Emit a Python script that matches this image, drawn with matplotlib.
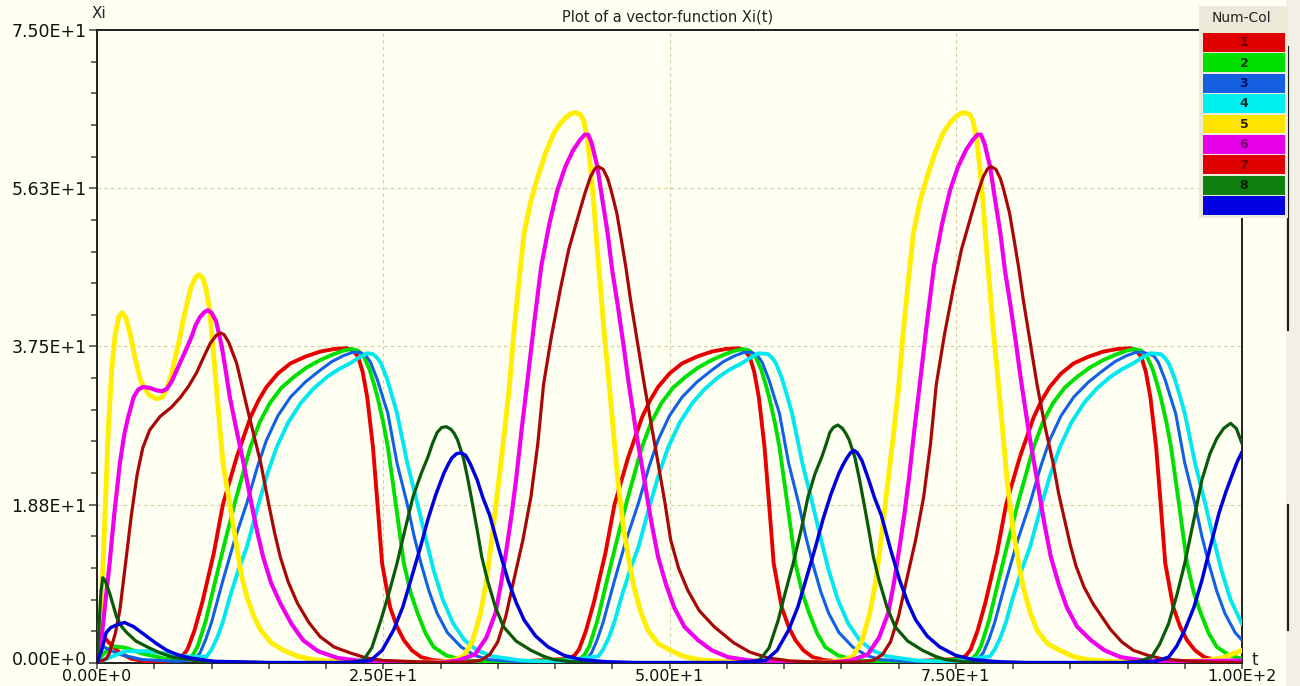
import matplotlib
matplotlib.use("Agg")
import matplotlib.pyplot as plt
import matplotlib.ticker as mticker
import matplotlib.transforms as mtransforms
from matplotlib.patches import Rectangle
from matplotlib.lines import Line2D

# Values, as (t, Xi) points for every component
xi1 = [(0, 3.5), (0.5, 3.2), (1.2, 2.2), (2.0, 1.2), (3.0, 0.5), (4.5, 0.15), (6.0, 0.2),
       (7.0, 0.5), (7.5, 0.9), (7.9, 1.6), (8.5, 3.8), (9.2, 7.2), (10.2, 13.0), (11.0, 18.8), (12.2, 24.4),
       (13.4, 29.1), (14.1, 31.1), (14.8, 32.7), (15.8, 34.3), (16.9, 35.5), (18.2, 36.3), (19.5, 36.9),
       (20.7, 37.2), (21.8, 37.3), (22.3, 37.1), (22.8, 36.3), (23.2, 34.5), (23.6, 31.5), (24.1, 25.6),
       (24.5, 18.8), (24.9, 11.8), (25.3, 8.8), (25.6, 6.6), (26.2, 4.3), (26.8, 2.7), (27.5, 1.5),
       (28.3, 0.7), (29.3, 0.35), (30.5, 0.2), (35.0, 0.05),
       (41.2, 0.5), (41.7, 0.9), (42.1, 1.6), (42.7, 3.8), (43.4, 7.2), (44.4, 13.0), (45.2, 18.8), (46.4, 24.4),
       (47.6, 29.1), (48.3, 31.1), (49.0, 32.7), (50.0, 34.3), (51.1, 35.5), (52.4, 36.3), (53.7, 36.9),
       (54.9, 37.2), (56.0, 37.3), (56.5, 37.1), (57.0, 36.3), (57.4, 34.5), (57.8, 31.5), (58.3, 25.6),
       (58.7, 18.8), (59.1, 11.8), (59.5, 8.8), (59.8, 6.6), (60.4, 4.3), (61.0, 2.7), (61.7, 1.5),
       (62.5, 0.7), (63.5, 0.35), (64.7, 0.2), (69.2, 0.05),
       (75.4, 0.5), (75.9, 0.9), (76.3, 1.6), (76.9, 3.8), (77.6, 7.2), (78.6, 13.0), (79.4, 18.8), (80.6, 24.4),
       (81.8, 29.1), (82.5, 31.1), (83.2, 32.7), (84.2, 34.3), (85.3, 35.5), (86.6, 36.3), (87.9, 36.9),
       (89.1, 37.2), (90.2, 37.3), (90.7, 37.1), (91.2, 36.3), (91.6, 34.5), (92.0, 31.5), (92.5, 25.6),
       (92.9, 18.8), (93.3, 11.8), (93.7, 8.8), (94.0, 6.6), (94.6, 4.3), (95.2, 2.7), (95.9, 1.5),
       (96.7, 0.7), (97.7, 0.35), (98.9, 0.2), (100, 0.1)]

xi2 = [(0, 0), (0.5, 1.0), (1.3, 2.0), (2.5, 1.8), (4.0, 1.1), (6.0, 0.5), (7.2, 0.4),
       (8.0, 0.5), (8.4, 1.0), (8.8, 2.0), (9.5, 5.0), (10.2, 9.0), (11.2, 14.5), (12.1, 19.3), (13.4, 25.6),
       (14.2, 28.5), (15.1, 30.8), (16.1, 32.6), (17.2, 33.9), (18.3, 35.0), (19.5, 35.9), (20.5, 36.5),
       (21.5, 37.0), (22.2, 37.2), (22.8, 37.0), (23.3, 36.3), (23.8, 34.8), (24.2, 33.0), (24.5, 31.5),
       (25.0, 28.5), (25.4, 25.6), (26.1, 18.8), (26.8, 11.8), (27.4, 8.3), (28.0, 5.9), (28.7, 3.5),
       (29.4, 1.9), (30.5, 0.9), (31.8, 0.4), (33.5, 0.15), (36.0, 0.05),
       (42.2, 0.5), (42.6, 1.0), (43.0, 2.0), (43.7, 5.0), (44.4, 9.0), (45.4, 14.5), (46.3, 19.3), (47.6, 25.6),
       (48.4, 28.5), (49.3, 30.8), (50.3, 32.6), (51.4, 33.9), (52.5, 35.0), (53.7, 35.9), (54.7, 36.5),
       (55.7, 37.0), (56.4, 37.2), (57.0, 37.0), (57.5, 36.3), (58.0, 34.8), (58.4, 33.0), (58.7, 31.5),
       (59.2, 28.5), (59.6, 25.6), (60.3, 18.8), (61.0, 11.8), (61.6, 8.3), (62.2, 5.9), (62.9, 3.5),
       (63.6, 1.9), (64.7, 0.9), (66.0, 0.4), (67.7, 0.15), (70.2, 0.05),
       (76.4, 0.5), (76.8, 1.0), (77.2, 2.0), (77.9, 5.0), (78.6, 9.0), (79.6, 14.5), (80.5, 19.3), (81.8, 25.6),
       (82.6, 28.5), (83.5, 30.8), (84.5, 32.6), (85.6, 33.9), (86.7, 35.0), (87.9, 35.9), (88.9, 36.5),
       (89.9, 37.0), (90.6, 37.2), (91.2, 37.0), (91.7, 36.3), (92.2, 34.8), (92.6, 33.0), (92.9, 31.5),
       (93.4, 28.5), (93.8, 25.6), (94.5, 18.8), (95.2, 11.8), (95.8, 8.3), (96.4, 5.9), (97.1, 3.5),
       (97.8, 1.9), (98.9, 0.9), (100, 0.5)]

xi3 = [(0, 0), (0.5, 2.0), (1.0, 1.6), (2.0, 1.0), (4.0, 0.4), (7.0, 0.2),
       (8.5, 0.4), (9.0, 1.2), (9.5, 2.8), (10.0, 4.8), (11.0, 9.8), (12.0, 14.5), (13.1, 19.0), (14.0, 23.2),
       (14.8, 26.4), (15.8, 29.3), (16.9, 31.5), (18.2, 33.3), (19.5, 34.7), (20.5, 35.7), (21.5, 36.4),
       (22.3, 36.8), (23.0, 36.8), (23.5, 36.4), (23.9, 35.6), (24.5, 33.5), (25.0, 31.3), (25.4, 29.6),
       (26.2, 23.7), (27.1, 18.8), (27.7, 15.0), (28.3, 11.8), (29.0, 8.5), (29.7, 5.9), (30.6, 3.6),
       (31.8, 1.9), (33.0, 0.9), (34.2, 0.4), (38.0, 0.05),
       (42.7, 0.4), (43.2, 1.2), (43.7, 2.8), (44.2, 4.8), (45.2, 9.8), (46.2, 14.5), (47.3, 19.0), (48.2, 23.2),
       (49.0, 26.4), (50.0, 29.3), (51.1, 31.5), (52.4, 33.3), (53.7, 34.7), (54.7, 35.7), (55.7, 36.4),
       (56.5, 36.8), (57.2, 36.8), (57.7, 36.4), (58.1, 35.6), (58.7, 33.5), (59.2, 31.3), (59.6, 29.6),
       (60.4, 23.7), (61.3, 18.8), (61.9, 15.0), (62.5, 11.8), (63.2, 8.5), (63.9, 5.9), (64.8, 3.6),
       (66.0, 1.9), (67.2, 0.9), (68.4, 0.4), (72.2, 0.05),
       (76.9, 0.4), (77.4, 1.2), (77.9, 2.8), (78.4, 4.8), (79.4, 9.8), (80.4, 14.5), (81.5, 19.0), (82.4, 23.2),
       (83.2, 26.4), (84.2, 29.3), (85.3, 31.5), (86.6, 33.3), (87.9, 34.7), (88.9, 35.7), (89.9, 36.4),
       (90.7, 36.8), (91.4, 36.8), (92.3, 36.4), (92.7, 35.6), (93.3, 33.5), (93.8, 31.3), (94.2, 29.6),
       (95.0, 23.7), (95.9, 18.8), (96.5, 15.0), (97.1, 11.8), (97.8, 8.5), (98.5, 5.9), (99.4, 3.6),
       (100, 2.7)]

xi4 = [(0, 0), (1.0, 0.6), (2.5, 1.4), (4.5, 1.4), (6.5, 1.0), (8.5, 0.7),
       (9.6, 0.8), (10.0, 1.6), (10.5, 3.0), (11.0, 4.9), (11.6, 7.8), (12.3, 10.8), (13.1, 13.8), (14.1, 18.8),
       (14.9, 22.5), (15.7, 25.6), (16.7, 28.5), (17.8, 30.8), (18.9, 32.5), (20.1, 33.9), (21.1, 34.8),
       (22.1, 35.5), (22.9, 36.2), (23.6, 36.7), (24.1, 36.6), (24.5, 36.1), (24.8, 35.5), (25.3, 33.8),
       (25.7, 32.0), (26.2, 29.6), (27.1, 23.7), (28.0, 18.8), (28.7, 14.8), (29.4, 11.0), (30.2, 7.5),
       (31.1, 4.7), (32.1, 2.7), (33.2, 1.5), (34.5, 0.8), (37.0, 0.3), (40.0, 0.1),
       (43.8, 0.8), (44.2, 1.6), (44.7, 3.0), (45.2, 4.9), (45.8, 7.8), (46.5, 10.8), (47.3, 13.8), (48.3, 18.8),
       (49.1, 22.5), (49.9, 25.6), (50.9, 28.5), (52.0, 30.8), (53.1, 32.5), (54.3, 33.9), (55.3, 34.8),
       (56.3, 35.5), (57.1, 36.2), (57.8, 36.7), (58.6, 36.6), (59.0, 36.1), (59.3, 35.5), (59.8, 33.8),
       (60.2, 32.0), (60.7, 29.6), (61.6, 23.7), (62.5, 18.8), (63.2, 14.8), (63.9, 11.0), (64.7, 7.5),
       (65.6, 4.7), (66.6, 2.7), (67.7, 1.5), (69.0, 0.8), (71.5, 0.3), (74.5, 0.1),
       (78.0, 0.8), (78.4, 1.6), (78.9, 3.0), (79.4, 4.9), (80.0, 7.8), (80.7, 10.8), (81.5, 13.8), (82.5, 18.8),
       (83.3, 22.5), (84.1, 25.6), (85.1, 28.5), (86.2, 30.8), (87.3, 32.5), (88.5, 33.9), (89.5, 34.8),
       (90.5, 35.5), (91.3, 36.2), (92.0, 36.7), (92.9, 36.6), (93.3, 36.1), (93.6, 35.5), (94.1, 33.8),
       (94.5, 32.0), (95.0, 29.6), (95.9, 23.7), (96.8, 18.8), (97.5, 14.8), (98.2, 11.0), (99.0, 7.5),
       (100, 4.6)]

xi5 = [(0, 0), (0.3, 5), (0.6, 14), (1.0, 28), (1.3, 35), (1.6, 39), (1.9, 41), (2.2, 41.5), (2.5, 41),
       (2.9, 39), (3.3, 36.3), (3.8, 33.5), (4.5, 31.8), (5.2, 31.3), (5.7, 31.5), (6.1, 32.5), (6.5, 34.2),
       (6.8, 36), (7.2, 38.3), (7.5, 40.5), (7.9, 42.8), (8.2, 44.5), (8.6, 45.7), (8.9, 46), (9.2, 45.7),
       (9.5, 44.5), (9.8, 42.2), (10.0, 39.5), (10.5, 31.5), (11.0, 23.7), (11.6, 18.8), (12.2, 13.8),
       (12.6, 10.5), (13.1, 7.8), (13.7, 5.5), (14.3, 3.9), (15.2, 2.4), (16.3, 1.5), (17.5, 0.8),
       (18.9, 0.4), (21.0, 0.15), (24.0, 0.05), (30.0, 0.1),
       (31.2, 0.35), (32.0, 0.8), (32.8, 2.6), (33.5, 5.9), (34.0, 9.6), (34.4, 13.8), (35.1, 21.7),
       (35.6, 27.5), (36.0, 32.5), (36.4, 39), (36.8, 44.5), (37.3, 50.9), (37.9, 54.8), (38.5, 57.6),
       (39.2, 60.5), (39.9, 62.8), (40.5, 64.0), (41.0, 64.7), (41.4, 65.1), (41.8, 65.2), (42.2, 65.0),
       (42.5, 64.3), (42.8, 62.3), (43.1, 58.8), (43.4, 54.2), (43.7, 48.9), (44.0, 44.0), (44.3, 39.1),
       (44.7, 33.5), (45.1, 27.5), (45.5, 21.5), (46.0, 15.8), (46.5, 11.8), (46.9, 9.0), (47.5, 6.0),
       (48.1, 3.9), (49.0, 2.3), (50.1, 1.5), (51.2, 0.8), (52.5, 0.4), (55.0, 0.15), (58.0, 0.05), (64.0, 0.1),
       (65.2, 0.35), (66.0, 0.8), (66.8, 2.6), (67.5, 5.9), (68.0, 9.6), (68.4, 13.8), (69.1, 21.7),
       (69.6, 27.5), (70.0, 32.5), (70.4, 39), (70.8, 44.5), (71.3, 50.9), (71.9, 54.8), (72.5, 57.6),
       (73.2, 60.5), (73.9, 62.8), (74.5, 64.0), (75.0, 64.7), (75.4, 65.1), (75.8, 65.2), (76.2, 65.0),
       (76.5, 64.3), (76.8, 62.3), (77.1, 58.8), (77.4, 54.2), (77.7, 48.9), (78.0, 44.0), (78.3, 39.1),
       (78.7, 33.5), (79.1, 27.5), (79.5, 21.5), (80.0, 15.8), (80.5, 11.8), (80.9, 9.0), (81.5, 6.0),
       (82.1, 3.9), (83.0, 2.3), (84.1, 1.5), (85.2, 0.8), (86.5, 0.4), (89.0, 0.15), (92.0, 0.05),
       (97.0, 0.3), (98.5, 0.7), (100, 1.5)]

xi6 = [(0, 0), (0.4, 3), (0.7, 6.8), (1.1, 11.8), (1.5, 17.5), (2.0, 23.7), (2.4, 27.2), (2.7, 29),
       (3.2, 31.5), (3.6, 32.4), (4.0, 32.7), (4.6, 32.6), (5.2, 32.3), (5.7, 32.2), (6.1, 32.5), (6.5, 33.3),
       (6.8, 34.2), (7.5, 36.3), (7.9, 37.5), (8.3, 38.8), (8.6, 40), (9.0, 41.0), (9.4, 41.6), (9.7, 41.8),
       (10.0, 41.5), (10.4, 40.5), (10.9, 37.5), (11.2, 35), (11.6, 31.5), (12.2, 27.5), (12.8, 23.7),
       (13.5, 18.8), (14.0, 15.5), (14.5, 12.6), (15.2, 9.5), (16.0, 7.1), (17.0, 4.6), (18.0, 2.7),
       (19.3, 1.4), (21.0, 0.6), (23.0, 0.25), (25.0, 0.1), (30.0, 0.05),
       (31.5, 0.3), (33.0, 1.0), (34.0, 3.0), (34.8, 5.9), (35.3, 9.5), (35.8, 13.8), (36.2, 17.5), (36.6, 21.7),
       (37.1, 27.8), (37.6, 33.5), (38.2, 40.5), (38.8, 47), (39.5, 52.0), (40.2, 56), (40.9, 58.8),
       (41.6, 60.8), (42.2, 62.0), (42.6, 62.6), (42.9, 62.6), (43.2, 61.6), (43.7, 58.8), (44.1, 55.2),
       (44.6, 50.9), (45.0, 46.5), (45.5, 42.2), (46.0, 37.5), (46.4, 33.5), (47.1, 27.2), (47.8, 21.7),
       (48.4, 16.8), (49.0, 12.6), (49.7, 9.3), (50.4, 6.6), (51.3, 4.3), (52.5, 2.7), (53.7, 1.5),
       (55.1, 0.7), (57.0, 0.3), (59.0, 0.1), (64.0, 0.05),
       (65.8, 0.3), (67.3, 1.0), (68.3, 3.0), (69.1, 5.9), (69.6, 9.5), (70.1, 13.8), (70.5, 17.5), (70.9, 21.7),
       (71.4, 27.8), (71.9, 33.5), (72.5, 40.5), (73.1, 47), (73.8, 52.0), (74.5, 56), (75.2, 58.8),
       (75.9, 60.8), (76.5, 62.0), (76.9, 62.6), (77.2, 62.6), (77.5, 61.6), (78.0, 58.8), (78.4, 55.2),
       (78.9, 50.9), (79.3, 46.5), (79.8, 42.2), (80.3, 37.5), (80.7, 33.5), (81.4, 27.2), (82.1, 21.7),
       (82.7, 16.8), (83.3, 12.6), (84.0, 9.3), (84.7, 6.6), (85.6, 4.3), (86.8, 2.7), (88.0, 1.5),
       (89.4, 0.7), (91.3, 0.3), (93.3, 0.15), (100, 0.3)]

xi7 = [(0, 0), (0.8, 0.5), (1.1, 1.2), (1.6, 3.5), (2.0, 6.3), (2.6, 13), (3.0, 17.5), (3.5, 22.3),
       (4.0, 25.5), (4.6, 27.6), (5.5, 29.2), (6.5, 30.3), (7.3, 31.5), (8.0, 32.8), (8.7, 34.4), (9.3, 36.2),
       (9.9, 37.9), (10.4, 38.8), (10.8, 39.1), (11.1, 38.9), (11.5, 38.0), (12.2, 35.5), (12.6, 33.2),
       (13.1, 30.3), (13.7, 27.0), (14.3, 23.7), (15.0, 18.8), (15.5, 15.5), (16.0, 12.6), (16.7, 9.6),
       (17.5, 7.1), (18.5, 4.8), (19.5, 3.1), (20.7, 1.9), (22.1, 1.2), (23.5, 0.6), (25.0, 0.3), (30.0, 0.05),
       (32.0, 0.1), (33.5, 0.3), (34.3, 1.0), (35.0, 2.5), (35.7, 5.5), (36.4, 9.8), (37.2, 14.6), (37.9, 19.7),
       (38.5, 26), (39.0, 33), (39.7, 38.8), (40.5, 44.5), (41.2, 49), (42.0, 52.8), (42.6, 55.6), (43.1, 57.6),
       (43.5, 58.6), (43.8, 58.8), (44.2, 58.5), (44.6, 57.4), (44.9, 56), (45.4, 53.3), (45.8, 50.1),
       (46.2, 46.8), (46.6, 43), (47.2, 38.0), (47.8, 33), (48.4, 28.3), (49.0, 23.7), (49.6, 19.0),
       (50.1, 14.6), (50.8, 11.2), (51.6, 8.6), (52.6, 6.2), (53.9, 4.3), (55.6, 2.4), (57.0, 1.3),
       (58.6, 0.6), (60.5, 0.25), (63.0, 0.1),
       (66.3, 0.1), (67.8, 0.3), (68.6, 1.0), (69.3, 2.5), (70.0, 5.5), (70.7, 9.8), (71.5, 14.6), (72.2, 19.7),
       (72.8, 26), (73.3, 33), (74.0, 38.8), (74.8, 44.5), (75.5, 49), (76.3, 52.8), (76.9, 55.6), (77.4, 57.6),
       (77.8, 58.6), (78.1, 58.8), (78.5, 58.5), (78.9, 57.4), (79.2, 56), (79.7, 53.3), (80.1, 50.1),
       (80.5, 46.8), (80.9, 43), (81.5, 38.0), (82.1, 33), (82.8, 28.0), (83.5, 23.7), (84.0, 20.0),
       (84.5, 17.0), (85.0, 14.0), (85.5, 11.5), (86.2, 9.0), (87.0, 7.0), (88.5, 4.0), (89.5, 2.5),
       (90.5, 1.5), (91.8, 0.9), (93.0, 0.5), (95.0, 0.25), (97.3, 0.1), (100, 0.05)]

xi8 = [(0, 0), (0.2, 5), (0.35, 8.5), (0.5, 10.1), (0.7, 9.8), (1.1, 8.3), (1.7, 5.5), (2.1, 4.4),
       (2.6, 3.6), (3.4, 2.6), (4.4, 1.9), (5.5, 1.2), (6.6, 0.7), (9.0, 0.2), (15.0, 0.05), (21.0, 0.05),
       (22.5, 0.15), (23.3, 0.4), (24.0, 1.8), (24.8, 5.1), (25.5, 8.3), (26.2, 11.8), (26.9, 15.8),
       (27.6, 19.7), (28.3, 22.4), (28.9, 24.4), (29.3, 26.0), (29.7, 27.3), (30.1, 27.9), (30.5, 28.0),
       (30.9, 27.7), (31.2, 27.2), (31.5, 26.4), (32.0, 24.3), (32.4, 21.7), (32.8, 18.8), (33.2, 15.8),
       (33.6, 12.6), (34.1, 9.8), (34.8, 6.6), (35.5, 4.3), (36.6, 2.6), (37.9, 1.5), (39.0, 0.8),
       (39.9, 0.4), (41.5, 0.15), (44.0, 0.05),
       (55.5, 0.05), (56.9, 0.15), (57.9, 0.4), (58.7, 1.8), (59.5, 5.1), (60.1, 8.3), (60.8, 11.8),
       (61.5, 15.8), (62.1, 19.7), (62.7, 22.4), (63.3, 24.4), (63.7, 26.0), (64.0, 27.3), (64.3, 27.9),
       (64.7, 28.2), (65.1, 27.8), (65.4, 27.2), (65.7, 26.4), (66.2, 24.3), (66.6, 21.7), (67.0, 18.8),
       (67.4, 15.8), (67.8, 12.6), (68.3, 9.8), (69.0, 6.6), (69.7, 4.3), (70.8, 2.6), (72.1, 1.5),
       (73.2, 0.8), (74.1, 0.4), (75.7, 0.15), (78.0, 0.05),
       (89.5, 0.05), (91.0, 0.2), (92.1, 0.7), (92.8, 2.2), (93.6, 4.7), (94.3, 8.0), (95.0, 11.8),
       (95.8, 17.0), (96.5, 21.7), (97.2, 24.8), (97.8, 26.6), (98.4, 27.8), (99.0, 28.4), (99.5, 27.8),
       (100, 26.0)]

xi9 = [(0, 0), (0.2, 0.8), (0.4, 1.5), (0.8, 3.6), (1.2, 4.2), (1.7, 4.5), (2.4, 4.8), (3.2, 4.3),
       (3.8, 3.7), (4.4, 3.1), (5.2, 2.3), (6.1, 1.5), (7.0, 1.0), (8.1, 0.6), (10.2, 0.2), (15.0, 0.05),
       (22.0, 0.05), (23.9, 0.3), (24.9, 1.5), (25.9, 3.9), (26.7, 6.6), (27.4, 9.8), (28.2, 13.5),
       (28.9, 17.0), (29.6, 20.0), (30.3, 22.5), (30.7, 23.6), (31.0, 24.3), (31.4, 24.8), (31.8, 24.9),
       (32.2, 24.6), (32.6, 23.6), (33.2, 21.7), (33.7, 19.6), (34.3, 17.5), (35.1, 13.5), (35.9, 9.8),
       (36.6, 7.2), (37.3, 5.1), (38.3, 3.2), (39.4, 1.9), (40.8, 0.9), (42.3, 0.4), (44.5, 0.15), (47.0, 0.05),
       (56.0, 0.05), (58.4, 0.3), (59.4, 1.5), (60.4, 3.9), (61.2, 6.6), (61.9, 9.8), (62.7, 13.5),
       (63.4, 17.0), (64.1, 20.0), (64.8, 22.5), (65.2, 23.6), (65.5, 24.3), (65.8, 24.9), (66.1, 25.2),
       (66.4, 24.9), (66.8, 24.0), (67.4, 21.7), (67.9, 19.6), (68.5, 17.5), (69.3, 13.5), (70.1, 9.8),
       (70.8, 7.2), (71.5, 5.1), (72.5, 3.2), (73.6, 1.9), (75.0, 0.9), (76.5, 0.4), (78.7, 0.15), (81.2, 0.05),
       (90.5, 0.05), (92.5, 0.2), (93.6, 0.7), (94.3, 2.0), (95.0, 3.9), (95.8, 6.6), (96.5, 9.8),
       (97.2, 13.6), (98.0, 17.8), (98.6, 20.3), (99.2, 22.5), (99.6, 23.9), (100, 25.0)]

components = [xi1, xi2, xi3, xi4, xi5, xi6, xi7, xi8, xi9]
legend_names = ["1", "2", "3", "4", "5", "6", "7", "8", ""]

y_ticks = [0, 18.75, 37.5, 56.25, 75]
y_labels = ["0.00E+0", "1.88E+1", "3.75E+1", "5.63E+1", "7.50E+1"]
x_ticks = [0, 25, 50, 75, 100]
x_labels = ["0.00E+0", "2.50E+1", "5.00E+1", "7.50E+1", "1.00E+2"]

# Styles
line_colors = ["#e80000", "#00e000", "#1060e8", "#00e8f0", "#ffee00",
               "#ee00ee", "#a80808", "#0a5a0a", "#0000dd"]
line_widths = [2.8, 2.8, 2.2, 2.8, 3.5, 3.0, 2.3, 2.3, 2.5]
legend_colors = ["#e00000", "#00e000", "#1560e0", "#00f0f0", "#ffe400",
                 "#e800e8", "#e00000", "#0f800f", "#0000e0"]
legend_text_colors = ["#600000", "#003000", "#001060", "#003030", "#302000",
                      "#700070", "#700000", "#002000", "#000060"]
bg = "#fffff2"

W, H = 1300, 686
plt.rcParams['font.family'] = 'DejaVu Sans'
fig = plt.figure(figsize=(W / 100, H / 100), dpi=100, facecolor=bg)

# axes box in pixels: x 97..1242, y 30..663
ax = fig.add_axes([97 / W, 1 - 663 / H, (1242 - 97) / W, (663 - 30) / H])
ax.set_facecolor(bg)

for pts, c, lw in zip(components, line_colors, line_widths):
    tt, xx = zip(*pts)
    ax.plot(tt, xx, color=c, lw=lw, solid_joinstyle='round',
            solid_capstyle='round', zorder=3)

ax.set_xlim(0, 100)
ax.set_ylim(0, 75)
ax.set_xticks(x_ticks)
ax.set_xticklabels(x_labels)
ax.set_yticks(y_ticks)
ax.set_yticklabels(y_labels)
ax.xaxis.set_minor_locator(mticker.MultipleLocator(5))
ax.yaxis.set_minor_locator(mticker.MultipleLocator(3.75))
ax.tick_params(which='both', direction='out', color='#404040', width=1.1)
ax.tick_params(axis='y', which='major', length=5.5, labelsize=12.5,
               labelcolor='#111111', pad=2)
ax.tick_params(axis='y', which='minor', length=4.5)
ax.tick_params(axis='x', which='major', length=4, labelsize=11.5,
               labelcolor='#111111', pad=0)
ax.tick_params(axis='x', which='minor', length=4)
ax.grid(True, which='major', color='#cfcfa0', lw=0.8, ls=(0, (3, 3)), zorder=1)
for sp in ax.spines.values():
    sp.set_color('#202020')
    sp.set_linewidth(1.4)

# lift the lowest y label a little so it clears the first x label
lbl0 = ax.get_yticklabels()[0]
lbl0.set_transform(lbl0.get_transform() +
                   mtransforms.ScaledTranslation(0, 5 / 100, fig.dpi_scale_trans))

# texts
fig.text(668 / W, 1 - 17 / H, "Plot of a vector-function Xi(t)", ha='center',
         va='center', fontsize=10.5, color='#222222')
fig.text(92 / W, 1 - 14 / H, "Xi", ha='left', va='center', fontsize=11,
         color='#222222')
fig.text(1252 / W, 1 - 660 / H, "t", ha='left', va='center', fontsize=12,
         color='#222222')

# window edge on the right
fig.add_artist(Rectangle((1286 / W, 0), 14 / W, 1, transform=fig.transFigure,
                         facecolor='#f1efe6', edgecolor='none', zorder=0.5))
fig.add_artist(Line2D([1288 / W, 1288 / W], [1 - 47 / H, 1 - 330 / H],
                      transform=fig.transFigure, color='#202020', lw=1.6, zorder=0.6))
fig.add_artist(Line2D([1288 / W, 1288 / W], [1 - 505 / H, 1 - 630 / H],
                      transform=fig.transFigure, color='#202020', lw=1.6, zorder=0.6))

# Num-Col legend panel
fig.add_artist(Rectangle((1199 / W, 1 - 218 / H), 89 / W, 212 / H,
                         transform=fig.transFigure, facecolor='#ece9d8',
                         edgecolor='none', zorder=1))
fig.text(1241 / W, 1 - 18 / H, "Num-Col", ha='center', va='center',
         fontsize=10, color='#222222', zorder=6)
lax = fig.add_axes([1203 / W, 1 - 216 / H, 82 / W, 184 / H])
lax.set_zorder(2)
lax.set_xlim(0, 1)
lax.set_ylim(len(legend_names), 0)
lax.axis('off')
for i, (name, c, tc) in enumerate(zip(legend_names, legend_colors, legend_text_colors)):
    lax.add_patch(Rectangle((0, i + 0.04), 1, 0.92, facecolor=c,
                            edgecolor='none'))
    lax.text(0.5, i + 0.52, name, ha='center', va='center', fontsize=9,
             fontweight='bold', color=tc)

fig.savefig("out.png", dpi=100, facecolor=bg)
